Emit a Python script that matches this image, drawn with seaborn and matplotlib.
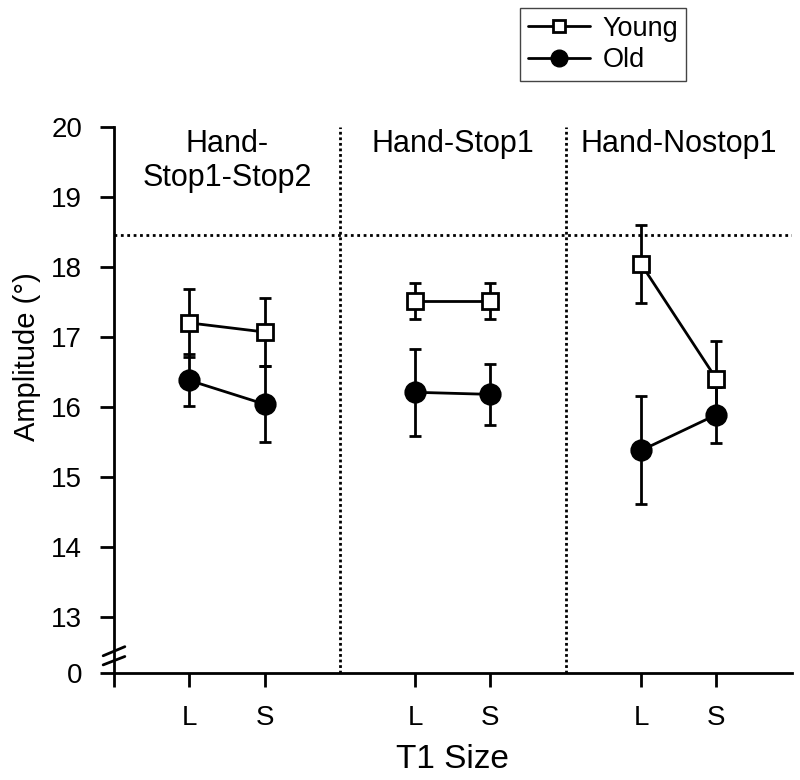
import matplotlib
matplotlib.use("Agg")
import matplotlib.pyplot as plt
import matplotlib.transforms as mtransforms
from matplotlib.lines import Line2D
import pandas as pd
import seaborn as sns

sns.set_style("ticks", {"text.color": "black", "axes.labelcolor": "black",
                        "xtick.color": "black", "ytick.color": "black"})
plt.rcParams['font.family'] = ['Liberation Sans', 'DejaVu Sans']

# data
panels = ['Hand-\nStop1-Stop2', 'Hand-Stop1', 'Hand-Nostop1']
sizes = ['L', 'S']
groups = ['Young', 'Old']
young_mean = [17.20, 17.07, 17.51, 17.51, 18.04, 16.40]
young_err = [0.49, 0.48, 0.26, 0.26, 0.56, 0.54]
old_mean = [16.38, 16.04, 16.21, 16.18, 15.38, 15.89]
old_err = [0.37, 0.54, 0.62, 0.44, 0.77, 0.40]
criterion = 18.46
y_tick_values = [13, 14, 15, 16, 17, 18, 19, 20]
y_break = 12.2  # shown as "0" below the axis break

# long table for seaborn
rows = []
for g, means, errs in [('Young', young_mean, young_err), ('Old', old_mean, old_err)]:
    for i, p in enumerate(panels):
        for j, s in enumerate(sizes):
            k = 2 * i + j
            rows.append({'group': g, 'panel': i, 'size': s,
                         'x': 3 * i + 1 + j, 'amp': means[k], 'err': errs[k]})
df = pd.DataFrame(rows)

styles = {
    'Young': dict(marker='s', markerfacecolor='white', markersize=11, zorder=4),
    'Old': dict(marker='o', markerfacecolor='black', markersize=14, zorder=3),
}

fig = plt.figure(figsize=(8, 7.8), dpi=100)
ax = fig.add_axes([0.1425, 0.1368, 0.8471, 0.7008])

for (g, i), sub in df.groupby(['group', 'panel']):
    st = styles[g]
    ax.errorbar(sub['x'], sub['amp'], yerr=sub['err'], fmt='none', ecolor='black',
                elinewidth=2, capsize=4, capthick=2, zorder=1.5)
    sns.lineplot(data=sub, x='x', y='amp', ax=ax, color='black', linewidth=2,
                 estimator=None, legend=False, marker=st['marker'],
                 markersize=st['markersize'], markerfacecolor=st['markerfacecolor'],
                 markeredgecolor='black', markeredgewidth=2, zorder=st['zorder'])

# separators and reference line
for xv in [3, 6]:
    ax.axvline(xv, color='black', linestyle=(0, (1, 1)), linewidth=2, zorder=1)
ax.axhline(criterion, color='black', linestyle=(0, (1, 1.3)), linewidth=2, zorder=1)

# panel titles
for i, p in enumerate(panels):
    ax.text(3 * i + 1.5, 19.96, p, ha='center', va='top', fontsize=22,
            linespacing=1.15, color='black')

ax.set_xlim(0, 9)
ax.set_ylim(y_break, 20)
ax.set_xticks([0, 1, 2, 4, 5, 7, 8])
ax.set_xticklabels([''] + sizes * 3)
ax.set_yticks([y_break] + y_tick_values)
ax.set_yticklabels(['0'] + [str(v) for v in y_tick_values])
ax.tick_params(axis='both', direction='out', length=10, width=2, labelsize=20,
               color='black', labelcolor='black')
ax.tick_params(axis='x', pad=13)
ax.tick_params(axis='y', pad=13)

sns.despine(ax=ax)
for sp in ['left', 'bottom']:
    ax.spines[sp].set_linewidth(2)
    ax.spines[sp].set_color('black')

ax.set_xlabel('T1 Size', fontsize=24, labelpad=9, color='black')
ax.set_ylabel('Amplitude (°)', fontsize=21, color='black')
ax.yaxis.set_label_coords(-0.108, 0.579)

# axis break marks
trans = mtransforms.blended_transform_factory(ax.transAxes, ax.transData)
for y0, y1 in [(12.45, 12.58), (12.32, 12.44)]:
    ax.plot([-0.016, 0.016], [y0, y1], transform=trans, color='black',
            linewidth=2, clip_on=False)

handles = [
    Line2D([], [], color='black', linewidth=2, marker='s', markersize=9,
           markerfacecolor='white', markeredgecolor='black', markeredgewidth=2),
    Line2D([], [], color='black', linewidth=2, marker='o', markersize=12,
           markerfacecolor='black', markeredgecolor='black'),
]
leg = fig.legend(handles, groups, loc='upper left', bbox_to_anchor=(0.65, 0.99),
                 fontsize=19.5, frameon=True, fancybox=False, edgecolor='#444444',
                 framealpha=1, handlelength=2.3, handletextpad=0.45,
                 borderpad=0.3, labelspacing=0.2, borderaxespad=0)
for t in leg.get_texts():
    t.set_color('black')
leg.get_frame().set_linewidth(1)

fig.savefig('out.png', dpi=100)
plt.close(fig)
